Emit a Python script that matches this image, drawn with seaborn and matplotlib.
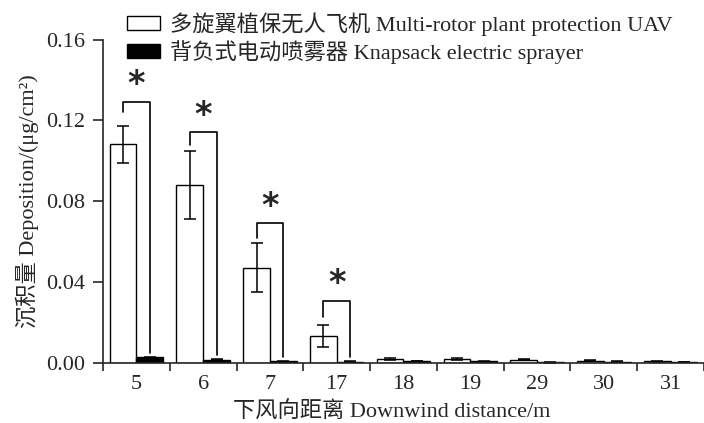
import numpy as np
import pandas as pd
import matplotlib
matplotlib.use('Agg')
import matplotlib.pyplot as plt
from matplotlib.patches import Patch
import seaborn as sns

# Values
distances = ['5', '6', '7', '17', '18', '19', '29', '30', '31']
uav_mean = [0.108, 0.088, 0.047, 0.013, 0.0015, 0.0015, 0.0014, 0.0008, 0.0005]
uav_sd = [0.009, 0.017, 0.012, 0.0055, 0.0005, 0.0005, 0.0003, 0.0003, 0.0002]
spray_mean = [0.0025, 0.0013, 0.0005, 0.0004, 0.0006, 0.0005, 0.0001, 0.0004, 0.0003]
spray_sd = [0.0002, 0.0002, 0.0001, 0.0001, 0.0001, 0.0001, 0.0001, 0.0001, 0.0001]

# significance brackets (first four distances)
sig_top = [0.129, 0.114, 0.069, 0.0306]
sig_left_gap = [0.007, 0.0025, 0.0025, 0.004]
sig_right_gap = 0.0022

uav_name = '多旋翼植保无人飞机 Multi-rotor plant protection UAV'
spray_name = '背负式电动喷雾器 Knapsack electric sprayer'

df = pd.DataFrame({
    'distance': distances * 2,
    'deposition': uav_mean + spray_mean,
    'sd': uav_sd + spray_sd,
    'device': [uav_name] * len(distances) + [spray_name] * len(distances),
})

sns.set_style('ticks')
plt.rcParams['font.family'] = ['Liberation Serif', 'Noto Sans CJK SC']

fig = plt.figure(figsize=(7.04, 4.23), dpi=100)
ax = fig.add_axes([103 / 704, 1 - 362.5 / 423, 1 - 103 / 704, (362.5 - 39.5) / 423])

sns.barplot(data=df, x='distance', y='deposition', hue='device',
            palette={uav_name: 'white', spray_name: 'black'},
            edgecolor='black', linewidth=1, width=0.8, errorbar=None,
            legend=False, ax=ax)

# error bars from the sd columns, placed on the drawn bars
patches = ax.patches
n = len(distances)
bar_x = {}
for j, (means, sds) in enumerate([(uav_mean, uav_sd), (spray_mean, spray_sd)]):
    xs = [p.get_x() + p.get_width() / 2 for p in patches[j * n:(j + 1) * n]]
    bar_x[j] = xs
    ax.errorbar(xs, means, yerr=sds, fmt='none', ecolor='black',
                elinewidth=1.1, capsize=4, capthick=1.1)

for i, top in enumerate(sig_top):
    x1, x2 = bar_x[0][i], bar_x[1][i]
    y1 = uav_mean[i] + uav_sd[i] + sig_left_gap[i]
    y2 = spray_mean[i] + sig_right_gap
    ax.plot([x1, x1, x2, x2], [y1, top, top, y2], color='black', lw=1.2)
    ax.text((x1 + x2) / 2, top + 0.0003, '*', ha='center', va='bottom',
            fontsize=24, fontweight='bold', family='DejaVu Sans')

ax.set_ylim(0, 0.16)
ax.set_xlim(-0.5, 8.5)
ax.set_yticks([0, 0.04, 0.08, 0.12, 0.16])
ax.set_yticklabels(['0.00', '0.04', '0.08', '0.12', '0.16'])
ax.set_xticks(range(n))
ax.set_xticklabels(distances)
ax.set_xticks(np.arange(-0.5, 8.6, 1), minor=True)
ax.tick_params(axis='x', which='major', length=0, labelsize=16, pad=9)
ax.tick_params(axis='x', which='minor', length=6, width=1.2, direction='out')
ax.tick_params(axis='y', length=7, width=1.2, labelsize=16, pad=6)
sns.despine(ax=ax)
for s in ['left', 'bottom']:
    ax.spines[s].set_linewidth(1.2)

ax.set_xlabel('下风向距离 Downwind distance/m', fontsize=16)
ax.xaxis.set_label_coords(0.48, -0.122)
ax.set_ylabel('沉积量 Deposition/(μg/cm²)', fontsize=16)
ax.yaxis.set_label_coords(-0.107, 0.5)

handles = [Patch(facecolor='white', edgecolor='black', lw=1),
           Patch(facecolor='black', edgecolor='black', lw=1)]
fig.legend(handles, [uav_name, spray_name], loc='upper left',
           bbox_to_anchor=(127 / 704, 1 - 12 / 423), frameon=False,
           fontsize=16, handlelength=1.5, handleheight=0.63,
           handletextpad=0.45, labelspacing=0.2, borderaxespad=0,
           borderpad=0)

fig.savefig('out.png', dpi=100)
